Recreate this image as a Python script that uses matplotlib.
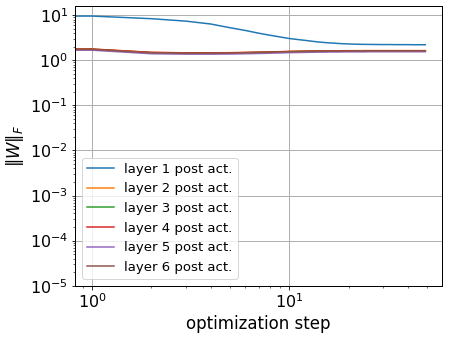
import numpy as np
import matplotlib
matplotlib.use("Agg")
import matplotlib.pyplot as plt

steps = list(range(50))

layer1 = [9.6, 9.6, 8.4, 7.4, 6.4, 5.3, 4.6, 4.0, 3.6, 3.3,
          3.05, 2.9, 2.78, 2.66, 2.56, 2.49, 2.44, 2.40, 2.36, 2.33,
          2.31, 2.29, 2.28, 2.27, 2.26, 2.26, 2.25, 2.25, 2.25, 2.24,
          2.24, 2.24, 2.24, 2.24, 2.23, 2.23, 2.23, 2.23, 2.23, 2.23,
          2.23, 2.23, 2.22, 2.22, 2.22, 2.22, 2.22, 2.22, 2.22, 2.22]
layer2 = [1.90, 1.78, 1.50, 1.47, 1.47, 1.48, 1.50, 1.52, 1.54, 1.56,
          1.58, 1.59, 1.60, 1.61, 1.62, 1.62, 1.63, 1.63, 1.63, 1.64,
          1.64, 1.64, 1.64, 1.64, 1.65, 1.65, 1.65, 1.65, 1.65, 1.65,
          1.65, 1.65, 1.65, 1.65, 1.65, 1.65, 1.65, 1.65, 1.65, 1.65,
          1.65, 1.65, 1.65, 1.65, 1.65, 1.65, 1.65, 1.65, 1.65, 1.65]
layer3 = [1.70, 1.76, 1.48, 1.45, 1.45, 1.46, 1.48, 1.50, 1.52, 1.54,
          1.56, 1.57, 1.58, 1.59, 1.59, 1.60, 1.60, 1.60, 1.61, 1.61,
          1.61, 1.61, 1.61, 1.61, 1.61, 1.61, 1.61, 1.61, 1.61, 1.61,
          1.61, 1.61, 1.61, 1.61, 1.61, 1.61, 1.61, 1.61, 1.61, 1.61,
          1.61, 1.61, 1.61, 1.61, 1.61, 1.61, 1.61, 1.61, 1.61, 1.61]
layer4 = [1.85, 1.78, 1.50, 1.46, 1.46, 1.47, 1.49, 1.51, 1.53, 1.55,
          1.57, 1.58, 1.59, 1.60, 1.61, 1.61, 1.62, 1.62, 1.62, 1.63,
          1.63, 1.63, 1.63, 1.63, 1.63, 1.63, 1.63, 1.63, 1.63, 1.63,
          1.63, 1.63, 1.63, 1.63, 1.63, 1.63, 1.63, 1.63, 1.63, 1.63,
          1.63, 1.63, 1.63, 1.63, 1.63, 1.63, 1.63, 1.63, 1.63, 1.63]
layer5 = [1.45, 1.68, 1.40, 1.37, 1.37, 1.38, 1.40, 1.42, 1.44, 1.46,
          1.48, 1.49, 1.50, 1.51, 1.52, 1.52, 1.53, 1.53, 1.53, 1.54,
          1.54, 1.54, 1.54, 1.54, 1.54, 1.55, 1.55, 1.55, 1.55, 1.55,
          1.55, 1.55, 1.55, 1.55, 1.55, 1.55, 1.55, 1.55, 1.55, 1.55,
          1.55, 1.55, 1.55, 1.55, 1.55, 1.55, 1.55, 1.55, 1.55, 1.55]
layer6 = [1.60, 1.74, 1.47, 1.44, 1.44, 1.45, 1.47, 1.49, 1.51, 1.53,
          1.55, 1.56, 1.57, 1.58, 1.59, 1.59, 1.60, 1.60, 1.60, 1.61,
          1.61, 1.61, 1.61, 1.62, 1.62, 1.62, 1.62, 1.62, 1.62, 1.62,
          1.62, 1.62, 1.62, 1.62, 1.62, 1.62, 1.62, 1.62, 1.62, 1.62,
          1.62, 1.62, 1.62, 1.62, 1.62, 1.62, 1.62, 1.62, 1.62, 1.62]

labels = ["layer 1 post act.", "layer 2 post act.", "layer 3 post act.",
          "layer 4 post act.", "layer 5 post act.", "layer 6 post act."]
series = [layer1, layer2, layer3, layer4, layer5, layer6]

s = 0.72  # reference drawn at 72 dpi
fig = plt.figure(figsize=(4.49, 3.37), dpi=100)
ax = fig.add_axes([0.1677, 0.1522, 0.8167, 0.8298])
for ys, lab in zip(series, labels):
    ax.plot(steps, ys, label=lab, lw=1.5 * s)
ax.set_xscale("log")
ax.set_yscale("log")
ax.set_ylim(1e-5, 16)
ax.grid(True, which="major", color="#b0b0b0", lw=1.0 * s)
for sp in ax.spines.values():
    sp.set_linewidth(1.0 * s)
ax.tick_params(which="major", length=3.5 * s, width=0.8 * s, pad=3.5 * s, labelsize=11.5)
ax.tick_params(which="minor", length=2 * s, width=0.6 * s)
ax.set_xlabel("optimization step", fontsize=12, labelpad=4 * s)
ax.set_ylabel(r"$\|W\|_F$", fontsize=12, labelpad=4 * s)
leg = ax.legend(loc="lower left", fontsize=9.5)
leg.get_frame().set_linewidth(1.0 * s)
fig.savefig("out.png", dpi=100)
